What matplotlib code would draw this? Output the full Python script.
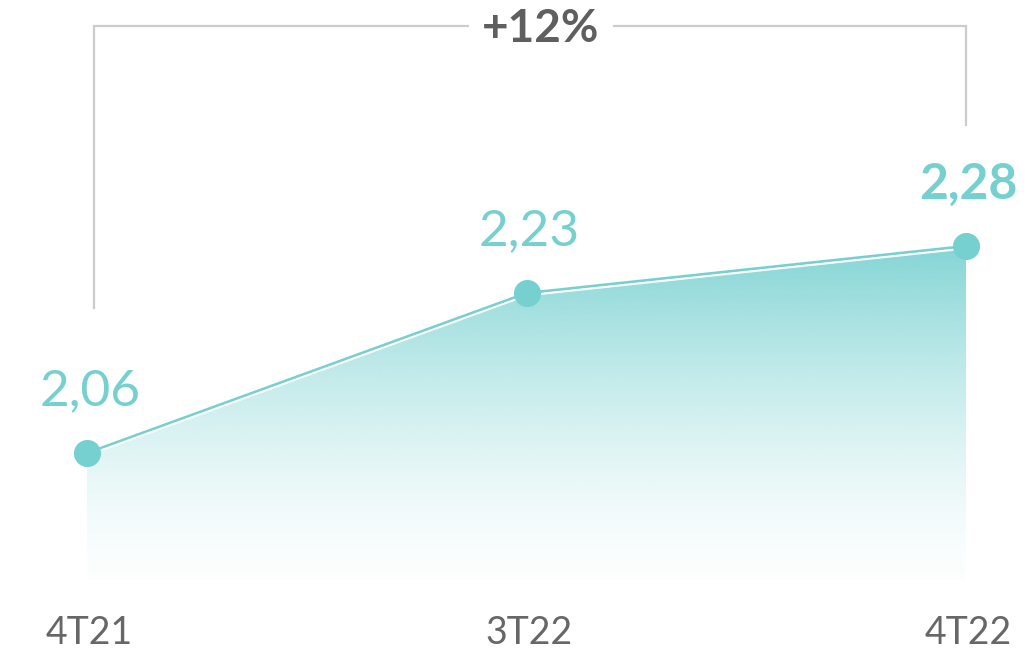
import numpy as np
import matplotlib
matplotlib.use('Agg')
import matplotlib.pyplot as plt
import matplotlib.patheffects as pe
from matplotlib.patches import Polygon

quarters = ['4T21', '3T22', '4T22']
values = [2.06, 2.23, 2.28]
value_labels = ['2,06', '2,23', '2,28']
growth_label = '+12%'

TEAL = '#76D0D0'
GREY_TXT = '#676767'
BRACKET = '#cccccc'

plt.rcParams['font.family'] = ['Lato', 'DejaVu Sans']

fig = plt.figure(figsize=(10.26, 6.63), dpi=100)
ax = fig.add_axes([0, 0, 1, 1])
ax.set_xlim(-0.198, 2.1365)
ax.set_ylim(1.8368, 2.5414)
ax.axis('off')

x = np.arange(len(values))
base = 1.925

# gradient fill under the line
poly = Polygon(list(zip(x, values)) + [(x[-1], base), (x[0], base)],
               closed=True, facecolor='none', edgecolor='none')
ax.add_patch(poly)
grad = np.linspace(0, 1, 256)
rgba = np.zeros((256, 1, 4))
rgba[..., :3] = matplotlib.colors.to_rgb(TEAL)
rgba[:, 0, 3] = 0.02 + 0.88 * grad ** 1.5
img = ax.imshow(rgba, extent=[x[0], x[-1], base, max(values)], origin='lower',
                aspect='auto', zorder=1, interpolation='bilinear')
img.set_clip_path(poly)

# line + markers
ax.plot(x, values, color=TEAL, lw=1.8, zorder=3,
        path_effects=[pe.Stroke(offset=(0, -1.6), linewidth=1.8, foreground='white'), pe.Normal()])
ax.plot(x, values, 'o', ms=19.5, color=TEAL, mec='none', zorder=4)

# value labels
for i, (v, lab) in enumerate(zip(values, value_labels)):
    bold = i == len(values) - 1
    ax.annotate(lab, (x[i], v), xytext=(2, 28), textcoords='offset points',
                ha='center', va='bottom', fontsize=37 if not bold else 36,
                fontweight='bold' if bold else 'normal', color=TEAL, zorder=5)

# category labels
for i, q in enumerate(quarters):
    ax.text(x[i] + 0.005, 1.8575, q, ha='center', va='baseline', fontsize=27,
            fontweight='normal', color=GREY_TXT)

# bracket
top = 2.514
ax.plot([x[0] + 0.016, x[0] + 0.016, x[-1], x[-1]], [2.214, top, top, 2.409],
        color=BRACKET, lw=1.6, solid_joinstyle='miter', zorder=2)
ax.text(1.033, top - 0.003, growth_label, ha='center', va='center',
        fontsize=33, fontweight='bold', color='#5f5f5f', zorder=3,
        bbox=dict(facecolor='white', edgecolor='none', pad=10))

fig.savefig('out.png', dpi=100)
